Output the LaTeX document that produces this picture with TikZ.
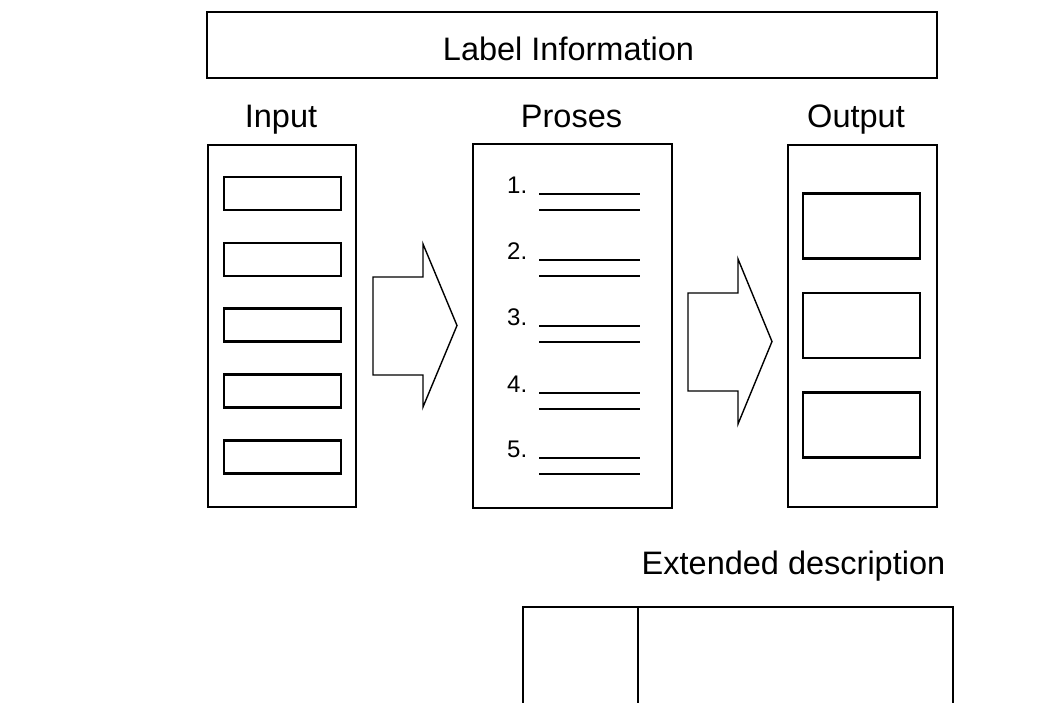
\documentclass[tikz,border=0pt]{standalone}
\usepackage{fontspec}
\setmainfont{Liberation Sans}
\begin{document}
\begin{tikzpicture}[x=1pt,y=-1pt,
  box/.style={draw=black, line width=2.6pt, inner sep=0pt},
  slot/.style={draw=black, line width=2.6pt, inner sep=0pt},
  title/.style={inner sep=0pt, anchor=base, font=\fontsize{32.5}{39}\selectfont},
  num/.style={inner sep=0pt, anchor=base west, font=\fontsize{24}{29}\selectfont},
  blockarrow/.style={draw=black, line width=1.4pt, line join=miter},
  rule/.style={draw=black, line width=2.6pt}]
\useasboundingbox (0,0) rectangle (1063,702);
\clip (0,0) rectangle (1063,702);

% header bar
\node[box, minimum width=730pt, minimum height=66pt] (label) at (572,45) {};
\node[title] (labeltxt) at (568.5,60) {Label Information};

% column titles
\node[title] (intxt) at (281,127) {Input};
\node[title] (protxt) at (571.5,127) {Proses};
\node[title] (outtxt) at (856,127) {Output};

% input column with five fields
\node[box, minimum width=148pt, minimum height=362pt] (input) at (282,326) {};
\foreach \i/\y in {1/193.5, 2/259.5, 3/325, 4/391, 5/457}
  \node[slot, minimum width=117pt, minimum height=33pt] (in\i) at (282.5,\y) {};

% process column with numbered steps
\node[box, minimum width=199pt, minimum height=364pt] (proses) at (572.5,326) {};
\foreach \i/\y in {1/193, 2/259, 3/325, 4/392, 5/457} {
  \node[num] (n\i) at (507,\y) {\i.};
  \coordinate (l\i a) at (539,\y+1);
  \coordinate (l\i b) at (640,\y+1);
  \coordinate (l\i c) at (539,\y+17);
  \coordinate (l\i d) at (640,\y+17);
  \draw[rule] (l\i a) -- (l\i b);
  \draw[rule] (l\i c) -- (l\i d);
}

% output column with three fields
\node[box, minimum width=149pt, minimum height=362pt] (output) at (862.5,326) {};
\foreach \i/\y in {1/226, 2/325.5, 3/425}
  \node[slot, minimum width=117pt, minimum height=65pt] (out\i) at (861.5,\y) {};

% block arrows between the columns
\draw[blockarrow] (373,277) -- (423,277) -- (423,244) -- (457,325.5)
  -- (423,407) -- (423,375) -- (373,375) -- cycle;
\draw[blockarrow] (688,293) -- (738,293) -- (738,259) -- (772,341.5)
  -- (738,424) -- (738,391) -- (688,391) -- cycle;

% extended description table
\node[title] (exttxt) at (793.5,574) {Extended description};
\coordinate (t1) at (523,607);
\coordinate (t2) at (953,607);
\coordinate (t3) at (523,710);
\coordinate (t4) at (953,710);
\coordinate (t5) at (638,607);
\coordinate (t6) at (638,710);
\draw[rule, line join=miter] (t3) -- (t1) -- (t2) -- (t4);
\draw[rule] (t5) -- (t6);
\end{tikzpicture}
\end{document}
